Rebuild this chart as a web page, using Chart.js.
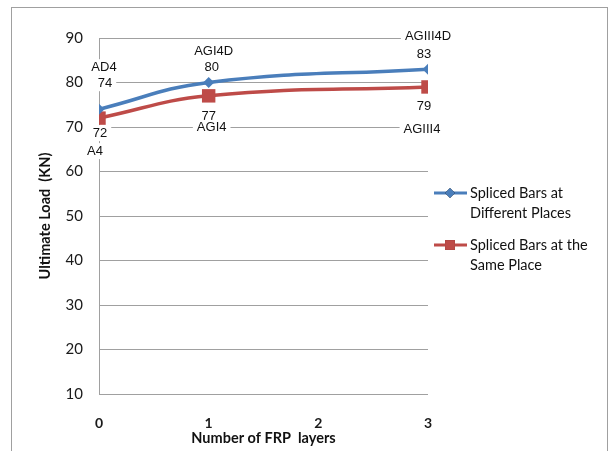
<!DOCTYPE html>
<html>
<head>
<meta charset="utf-8">
<script src="https://cdn.jsdelivr.net/npm/chart.js@4.4.0/dist/chart.umd.min.js"></script>
<style>
  body { margin: 0; background: #fff; }
  #wrap { position: relative; width: 613px; height: 451px; }
</style>
</head>
<body>
<div id="wrap"><canvas id="chart" width="613" height="451"></canvas></div>
<script>
// number of FRP layers (x) and ultimate load in KN (y)
const layers = [0, 1, 3];
const differentPlaces = [74, 80, 83];
const samePlace = [72, 77, 79];
const differentNames = ['AD4', 'AGI4D', 'AGIII4D'];
const sameNames = ['A4', 'AGI4', 'AGIII4'];
const legendLines = [['Spliced Bars at', 'Different Places'], ['Spliced Bars at the', 'Same Place']];
const xTicks = [0, 1, 2, 3];
const yRange = [10, 90];

// where each label sits relative to its point: [dx, dy of value, dx, dy of name]
const labelOffsets = [
    [[6, -26, 5, -42], [3, -15, 5, -31], [-4, -15, 0, -33]],
    [[1, 15, -4, 33], [0, 21, 3, 32], [-4, 19, -6, 42]]
];

const BLUE = '#4a7ebb';
const RED = '#be4b48';

function toPoints(values) {
    return layers.map((x, i) => ({ x: x, y: values[i] }));
}

function drawBoxedText(ctx, text, x, y) {
    const w = ctx.measureText(text).width;
    ctx.fillStyle = '#fff';
    ctx.fillRect(x - w / 2 - 4, y - 8, w + 8, 16);
    ctx.fillStyle = '#111';
    ctx.fillText(text, x, y);
}

const frame = {
    id: 'frame',
    beforeDraw(chart) {
        const ctx = chart.ctx;
        ctx.save();
        ctx.strokeStyle = '#a0a0a0';
        ctx.lineWidth = 1;
        ctx.strokeRect(11.5, 7.5, 596, 500);
        ctx.restore();
    }
};

const pointLabels = {
    id: 'pointLabels',
    afterDatasetsDraw(chart) {
        const ctx = chart.ctx;
        const names = [differentNames, sameNames];
        ctx.save();
        ctx.font = '13px "Liberation Sans", Arial, sans-serif';
        ctx.textAlign = 'center';
        ctx.textBaseline = 'middle';
        chart.data.datasets.forEach((ds, d) => {
            const meta = chart.getDatasetMeta(d);
            meta.data.forEach((pt, i) => {
                const o = labelOffsets[d][i];
                drawBoxedText(ctx, String(ds.data[i].y), pt.x + o[0], pt.y + o[1]);
                drawBoxedText(ctx, names[d][i], pt.x + o[2], pt.y + o[3]);
            });
        });
        ctx.restore();
    }
};

const sideLegend = {
    id: 'sideLegend',
    afterDraw(chart) {
        const ctx = chart.ctx;
        const rows = [193, 245];
        ctx.save();
        chart.data.datasets.forEach((ds, d) => {
            const y = rows[d];
            ctx.strokeStyle = ds.borderColor;
            ctx.lineWidth = 3;
            ctx.beginPath();
            ctx.moveTo(434, y);
            ctx.lineTo(467, y);
            ctx.stroke();
            Chart.helpers.drawPoint(ctx, {
                pointStyle: ds.pointStyle,
                radius: d === 0 ? 5 : 7,
                borderWidth: 0
            }, 450, y);
            ctx.fillStyle = ds.backgroundColor;
            ctx.fill();
            ctx.fillStyle = '#111';
            ctx.font = '14.5px Lato, "Open Sans", sans-serif';
            ctx.textAlign = 'left';
            ctx.textBaseline = 'middle';
            legendLines[d].forEach((line, k) => {
                ctx.fillText(line, 470, y + k * 20);
            });
        });
        ctx.restore();
    }
};

new Chart(document.getElementById('chart'), {
    type: 'line',
    data: {
        datasets: [{
            label: legendLines[0].join(' '),
            data: toPoints(differentPlaces),
            borderColor: BLUE,
            backgroundColor: BLUE,
            borderWidth: 3.5,
            pointStyle: 'rectRot',
            pointRadius: 5.5,
            pointBorderWidth: 0,
            tension: 0.45
        }, {
            label: legendLines[1].join(' '),
            data: toPoints(samePlace),
            borderColor: RED,
            backgroundColor: RED,
            borderWidth: 3.5,
            pointStyle: 'rect',
            pointRadius: 9.5,
            pointBorderWidth: 0,
            tension: 0.45
        }]
    },
    options: {
        responsive: false,
        animation: false,
        layout: { padding: { left: 34, right: 185, top: 38, bottom: 4 } },
        plugins: {
            legend: { display: false },
            tooltip: { enabled: false }
        },
        scales: {
            x: {
                type: 'linear',
                min: xTicks[0],
                max: xTicks[xTicks.length - 1],
                afterFit(scale) { scale.height = 53; },
                afterBuildTicks(scale) { scale.ticks = xTicks.map(v => ({ value: v })); },
                grid: { display: false, drawTicks: false },
                border: { display: false },
                ticks: {
                    padding: 21,
                    color: '#1a1a1a',
                    font: { family: 'Lato', size: 14, weight: 'bold' }
                },
                title: {
                    display: true,
                    text: 'Number of FRP  layers',
                    color: '#111',
                    padding: 0,
                    font: { family: 'Lato', size: 14.5, weight: 'bold' }
                }
            },
            y: {
                min: yRange[0],
                max: yRange[1],
                afterFit(scale) { scale.width = 65; },
                ticks: {
                    stepSize: 10,
                    padding: 16,
                    color: '#1a1a1a',
                    font: { family: 'Lato', size: 15 }
                },
                grid: { color: '#a0a0a0', drawTicks: false },
                border: { color: '#a0a0a0' },
                title: {
                    display: true,
                    text: 'Ultimate Load  (KN)',
                    color: '#111',
                    padding: { top: 3, bottom: 0 },
                    font: { family: 'Lato', size: 14.5, weight: 'bold' }
                }
            }
        }
    },
    plugins: [frame, pointLabels, sideLegend]
});
</script>
</body>
</html>
